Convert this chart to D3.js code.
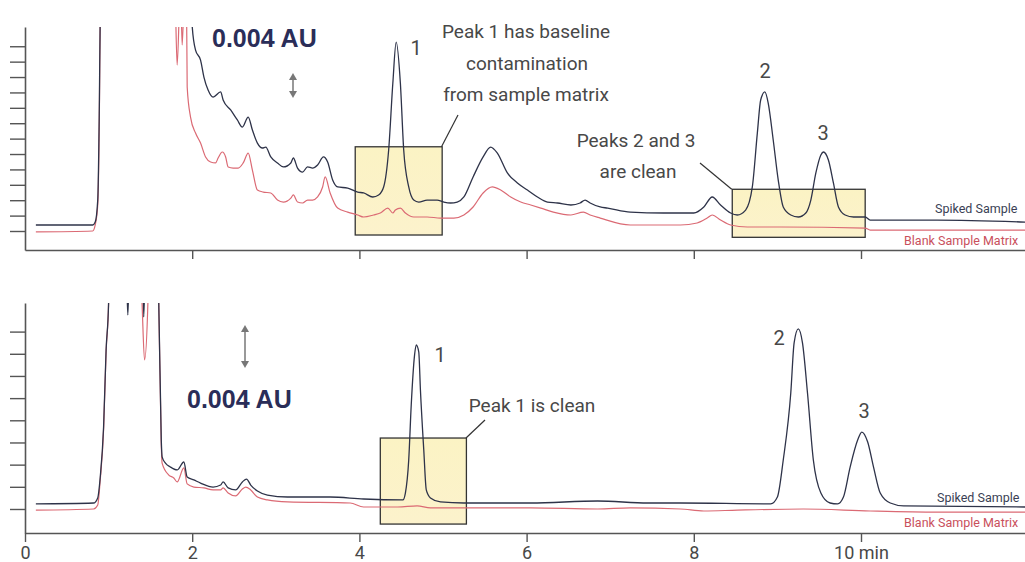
<!DOCTYPE html>
<html><head><meta charset="utf-8">
<script src="https://cdn.jsdelivr.net/npm/d3@7"></script>
<style>
body{margin:0;background:#fff;}
svg{display:block;}
text{font-family:Roboto,'Noto Sans',sans-serif;}
</style>
</head><body>
<svg id="chart" width="1025" height="562"></svg>
<script>
// ---------- data ----------
const xTickValues = [0, 2, 4, 6, 8, 10];
const xTickLabels = ["0", "2", "4", "6", "8", "10 min"];
const topYTicks = [0,1,2,3,4,5,6,7,8,9,10,11,12];
const botYTicks = [0,1,2,3,4,5,6,7,8];
const seriesNames = ["Spiked Sample", "Blank Sample Matrix"];
const scaleBarLabel = "0.004 AU";

// [time (min), signal (tick units)]; values above the axis are off-scale
const topSpiked = [[0.13,0.39],[0.81,0.39],[0.84,0.58],[0.87,2.01],[0.89,8.51],[0.90,14],[0.92,16],[1.98,16],[2.00,13.3],
[2.04,11.75],[2.10,11.10],[2.14,10.0],[2.19,9.16],[2.25,8.70],[2.34,9.03],[2.37,8.51],[2.46,7.86],[2.54,7.21],[2.60,6.75],
[2.67,7.40],[2.72,6.56],[2.78,5.71],[2.84,5.39],[2.88,5.45],[2.94,4.81],[3.02,4.42],[3.09,4.16],[3.18,4.42],[3.21,4.74],
[3.26,4.09],[3.32,3.83],[3.38,4.16],[3.44,4.09],[3.50,4.29],[3.57,4.81],[3.62,4.48],[3.68,3.31],[3.74,2.86],[3.86,2.79],
[3.98,2.53],[4.05,2.47],[4.16,2.21],[4.23,2.34],[4.29,2.86],[4.35,5.26],[4.40,9.61],[4.44,12.27],[4.49,9.61],[4.53,5.26],
[4.59,2.86],[4.65,2.01],[4.71,1.88],[4.81,2.01],[4.93,2.01],[5.01,1.88],[5.09,1.82],[5.17,1.88],[5.25,2.21],[5.36,3.51],
[5.48,4.81],[5.57,5.45],[5.65,5.06],[5.77,3.77],[5.89,3.12],[6.01,2.66],[6.13,2.21],[6.25,1.88],[6.37,1.82],[6.53,1.69],
[6.64,1.82],[6.70,2.01],[6.76,1.82],[6.88,1.56],[6.97,1.49],[7.24,1.23],[7.64,1.17],[8.00,1.17],[8.12,1.56],[8.22,2.21],
[8.32,1.69],[8.44,1.17],[8.52,1.04],[8.62,1.36],[8.70,2.86],[8.76,6.36],[8.80,8.51],[8.85,9.03],[8.89,8.31],[8.95,5.91],
[9.01,3.31],[9.07,1.56],[9.16,1.04],[9.25,0.91],[9.34,1.17],[9.40,2.01],[9.46,3.77],[9.52,4.94],[9.55,5.13],[9.61,4.61],
[9.67,3.12],[9.73,1.56],[9.81,1.04],[9.91,0.91],[10.05,0.91],[10.11,0.71],[10.91,0.71],[11.97,0.58]];

const topBlank = [[0.13,-0.06],[0.81,0.00],[0.84,0.39],[0.87,1.69],[0.89,7.86],[0.90,14],[0.92,16],[1.79,16],[1.82,10.78],
[1.86,16],[1.88,12.08],[1.91,16],[1.93,16],[1.94,9.35],[1.98,7.40],[2.04,6.36],[2.10,5.71],[2.16,4.81],[2.22,4.48],
[2.28,4.42],[2.31,4.74],[2.36,5.13],[2.40,4.81],[2.43,4.16],[2.49,4.09],[2.55,4.09],[2.61,4.42],[2.67,5.06],[2.72,3.96],
[2.78,2.66],[2.85,2.53],[2.94,2.47],[3.02,2.01],[3.09,1.88],[3.18,2.14],[3.21,2.34],[3.26,1.88],[3.32,1.82],[3.38,2.01],
[3.44,2.01],[3.50,2.21],[3.56,2.86],[3.59,3.51],[3.65,2.47],[3.74,1.49],[3.86,1.23],[3.98,1.04],[4.05,0.91],[4.17,1.04],
[4.25,1.17],[4.34,1.49],[4.40,1.17],[4.43,1.36],[4.49,1.49],[4.55,1.17],[4.65,0.91],[4.81,0.91],[4.97,0.84],[5.13,0.84],
[5.25,1.04],[5.36,1.56],[5.48,2.47],[5.59,2.86],[5.69,2.66],[5.81,2.21],[5.93,1.88],[6.05,1.69],[6.17,1.49],[6.32,1.23],
[6.53,1.04],[6.68,1.23],[6.76,1.04],[6.88,0.84],[7.24,0.39],[7.84,0.39],[8.04,0.52],[8.16,0.84],[8.22,1.04],[8.32,0.71],
[8.44,0.39],[8.64,0.26],[9.04,0.26],[10.05,0.19],[10.11,0.06],[11.97,0.06]];

const botSpiked = [[0.13,0.23],[0.82,0.27],[0.87,0.50],[0.90,1.44],[0.94,3.70],[0.97,7.17],[1.00,9.3],[1.01,11],[1.21,11],
[1.23,8.75],[1.25,11],[1.41,11],[1.42,8.66],[1.44,11],[1.58,11],[1.60,9.29],[1.63,3.11],[1.64,2.35],[1.68,2.07],[1.74,1.89],
[1.82,1.76],[1.90,2.12],[1.94,1.44],[2.02,1.31],[2.10,1.17],[2.25,0.99],[2.34,1.08],[2.37,1.22],[2.43,0.95],[2.52,0.86],
[2.60,1.22],[2.65,1.35],[2.70,1.08],[2.78,0.81],[2.90,0.63],[3.14,0.54],[3.65,0.54],[4.05,0.45],[4.52,0.41],[4.55,0.72],
[4.59,2.21],[4.62,4.69],[4.66,6.95],[4.68,7.40],[4.71,7.08],[4.73,5.37],[4.77,2.66],[4.80,0.86],[4.85,0.50],[4.97,0.32],
[5.25,0.27],[6.05,0.27],[6.85,0.36],[7.45,0.27],[7.84,0.27],[8.92,0.23],[9.00,0.54],[9.07,2.21],[9.16,5.23],[9.20,7.49],
[9.25,8.12],[9.30,7.49],[9.36,5.23],[9.43,2.21],[9.52,0.72],[9.63,0.27],[9.72,0.23],[9.79,0.54],[9.87,1.89],[9.96,3.11],
[10.01,3.47],[10.08,3.02],[10.15,1.89],[10.23,0.72],[10.35,0.27],[10.51,0.14],[11.97,0.09]];

const botBlank = [[0.13,-0.05],[0.82,0.00],[0.87,0.18],[0.90,1.31],[0.94,3.56],[0.97,7.08],[1.00,9.3],[1.01,11],[1.38,11],
[1.40,9.29],[1.43,6.72],[1.47,9.29],[1.48,11],[1.58,11],[1.60,9.29],[1.63,2.89],[1.64,2.07],[1.72,1.53],[1.78,1.40],
[1.82,1.22],[1.90,1.85],[1.94,1.13],[2.02,0.99],[2.14,0.95],[2.25,0.86],[2.34,0.86],[2.37,0.95],[2.43,0.72],[2.52,0.59],
[2.60,0.90],[2.64,0.99],[2.70,0.86],[2.78,0.54],[2.90,0.41],[3.14,0.32],[3.89,0.27],[4.05,0.09],[4.46,0.09],[4.69,0.14],
[4.85,0.05],[6.05,0.05],[6.85,0.00],[7.24,0.05],[7.84,0.00],[8.12,-0.09],[8.52,-0.05],[9.31,0.00],[10.11,-0.09],
[10.91,-0.14],[11.97,-0.14]];

// highlight boxes [t0, t1, v0, v1]
const topBoxes = [[3.95, 4.99, -0.26, 5.47], [8.46, 10.05, -0.41, 2.71]];
const botBoxes = [[4.25, 5.28, -0.68, 3.20]];

// ---------- drawing ----------
const svg = d3.select("#chart");
const W = 1025;
const x = d3.scaleLinear().domain([0, 12]).range([25, 1028.2]);
const yTop = d3.scaleLinear().domain([-1.234, 13.25]).range([250, 27]);
const yBot = d3.scaleLinear().domain([-1.083, 9.29]).range([533, 303]);

const NAVY = "#2e3349", RED = "#db6a74", AXIS = "#555", TXT = "#484848";

const defs = svg.append("defs");
defs.append("clipPath").attr("id","clipTop").append("rect").attr("x",26).attr("y",27).attr("width",W-26).attr("height",223);
defs.append("clipPath").attr("id","clipBot").append("rect").attr("x",25).attr("y",303).attr("width",W-25).attr("height",230);
const grad = defs.append("linearGradient").attr("id","boxFill").attr("x1",0).attr("y1",0).attr("x2",0).attr("y2",1);
grad.append("stop").attr("offset","0%").attr("stop-color","#fbf3c4");
grad.append("stop").attr("offset","100%").attr("stop-color","#fcf2cc");

function panel(ys, clipId, spiked, blank, boxes, yTicks, bottomAxisY, showLabels) {
  const g = svg.append("g");
  g.selectAll("rect.box").data(boxes).join("rect").attr("class","box")
    .attr("x", d => x(d[0])).attr("width", d => x(d[1]) - x(d[0]))
    .attr("y", d => ys(d[3])).attr("height", d => ys(d[2]) - ys(d[3]))
    .attr("fill","url(#boxFill)").attr("stroke","#333").attr("stroke-width",1.3);
  const line = d3.line().x(d => x(d[0])).y(d => ys(d[1])).curve(d3.curveMonotoneX);
  const lg = g.append("g").attr("clip-path", `url(#${clipId})`);
  lg.append("path").datum(blank).attr("d", line).attr("fill","none").attr("stroke",RED).attr("stroke-width",1.2);
  lg.append("path").datum(spiked).attr("d", line).attr("fill","none").attr("stroke",NAVY).attr("stroke-width",1.3);
  const ya = g.append("g").attr("transform", `translate(${x(0)},0)`)
    .call(d3.axisLeft(ys).tickValues(yTicks).tickSize(15).tickSizeOuter(0).tickFormat(""));
  const xa = g.append("g").attr("transform", `translate(0,${bottomAxisY})`)
    .call(d3.axisBottom(x).tickValues(showLabels ? xTickValues : xTickValues.slice(1)).tickSize(9).tickSizeOuter(0)
      .tickFormat(d => showLabels ? xTickLabels[xTickValues.indexOf(d)] : ""));
  [ya, xa].forEach(a => {
    a.select(".domain").attr("stroke",AXIS).attr("stroke-width",1.6);
    a.selectAll(".tick line").attr("stroke",AXIS).attr("stroke-width",1.4);
  });
  xa.selectAll(".tick text").attr("y",26).attr("dy",0).attr("fill",TXT)
    .style("font-size","18px").style("font-family","Roboto, sans-serif");
  return g;
}

panel(yTop, "clipTop", topSpiked, topBlank, topBoxes, topYTicks, 250, false);
panel(yBot, "clipBot", botSpiked, botBlank, botBoxes, botYTicks, 533, true);

// ---------- annotations ----------
const ann = svg.append("g");
function leader(x1,y1,x2,y2){ ann.append("line").attr("x1",x1).attr("y1",y1).attr("x2",x2).attr("y2",y2).attr("stroke","#333").attr("stroke-width",1.2); }
leader(441.5,146.7,458,115);
leader(731.7,189.3,700,163);
leader(466,438,485,420);

function label(t, xx, yy, size, anchor, color, weight){
  return ann.append("text").attr("x",xx).attr("y",yy).attr("text-anchor",anchor||"middle")
    .attr("fill",color||TXT).style("font-size",size+"px").style("font-weight",weight||"normal").text(t);
}
label("Peak 1 has baseline", 526, 38, 19);
label("contamination", 527, 70, 19);
label("from sample matrix", 526, 101, 19);
label("Peaks 2 and 3", 636, 147, 19);
label("are clean", 638, 178, 19);
label("Peak 1 is clean", 532, 412, 19);
label("1", 416, 55, 20);
label("2", 765, 78, 20);
label("3", 823, 140, 20);
label("1", 440, 362, 20);
label("2", 779, 345, 20);
label("3", 864, 418, 20);
label(scaleBarLabel, 212, 47, 25, "start", "#2a2d58", "bold").style("font-family","'Liberation Sans', Arial, sans-serif");
label(scaleBarLabel, 187, 408, 25, "start", "#2a2d58", "bold").style("font-family","'Liberation Sans', Arial, sans-serif");
function dblArrow(xx, y1, y2){
  ann.append("line").attr("x1",xx).attr("x2",xx).attr("y1",y1+5).attr("y2",y2-5).attr("stroke","#777").attr("stroke-width",1.5);
  ann.append("path").attr("d",`M${xx},${y1}L${xx-4},${y1+7}L${xx+4},${y1+7}Z`).attr("fill","#777");
  ann.append("path").attr("d",`M${xx},${y2}L${xx-4},${y2-7}L${xx+4},${y2-7}Z`).attr("fill","#777");
}
dblArrow(293, 73, 98);
dblArrow(245, 325, 368);
label(seriesNames[0], 935, 213, 12.5, "start", "#3a3f55");
label(seriesNames[1], 904, 245, 12.5, "start", "#c9505c");
label(seriesNames[0], 937, 502, 12.5, "start", "#3a3f55");
label(seriesNames[1], 904, 527, 12.5, "start", "#c9505c");
</script>
</body></html>
